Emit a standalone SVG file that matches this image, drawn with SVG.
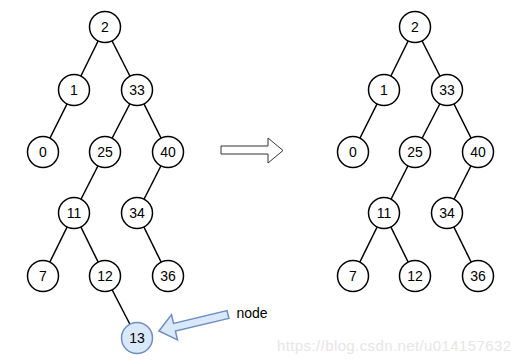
<svg xmlns="http://www.w3.org/2000/svg" width="521" height="364" viewBox="0 0 521 364">
<style>
.n circle{fill:#fff;stroke:#000;stroke-width:1.5}
.n text{font-family:"Comic Sans MS","Liberation Sans",sans-serif;font-size:14px;text-anchor:middle;dominant-baseline:central;fill:#000}
#edges line{stroke:#000;stroke-width:1.5}
#n13 circle{fill:#dae8fc;stroke:#6c8ebf}
</style>
<rect width="521" height="364" fill="#fff"/>
<g id="edges">
<line x1="105" y1="27" x2="74" y2="90"/>
<line x1="105" y1="27" x2="137" y2="90"/>
<line x1="74" y1="90" x2="43" y2="152"/>
<line x1="137" y1="90" x2="105" y2="152"/>
<line x1="137" y1="90" x2="168" y2="152"/>
<line x1="105" y1="152" x2="74" y2="213"/>
<line x1="168" y1="152" x2="137" y2="213"/>
<line x1="74" y1="213" x2="43" y2="276"/>
<line x1="74" y1="213" x2="105" y2="276"/>
<line x1="137" y1="213" x2="168" y2="276"/>
<line x1="105" y1="276" x2="137" y2="338"/>
<line x1="415" y1="27" x2="384" y2="90"/>
<line x1="415" y1="27" x2="447" y2="90"/>
<line x1="384" y1="90" x2="353" y2="152"/>
<line x1="447" y1="90" x2="415" y2="152"/>
<line x1="447" y1="90" x2="478" y2="152"/>
<line x1="415" y1="152" x2="384" y2="213"/>
<line x1="478" y1="152" x2="447" y2="213"/>
<line x1="384" y1="213" x2="353" y2="276"/>
<line x1="384" y1="213" x2="415" y2="276"/>
<line x1="447" y1="213" x2="478" y2="276"/>
</g>
<g id="L2" class="n"><circle cx="105" cy="27" r="15.5"/><text x="105" y="27">2</text></g>
<g id="L1" class="n"><circle cx="74" cy="90" r="15.5"/><text x="74" y="90">1</text></g>
<g id="L33" class="n"><circle cx="137" cy="90" r="15.5"/><text x="137" y="90">33</text></g>
<g id="L0" class="n"><circle cx="43" cy="152" r="15.5"/><text x="43" y="152">0</text></g>
<g id="L25" class="n"><circle cx="105" cy="152" r="15.5"/><text x="105" y="152">25</text></g>
<g id="L40" class="n"><circle cx="168" cy="152" r="15.5"/><text x="168" y="152">40</text></g>
<g id="L11" class="n"><circle cx="74" cy="213" r="15.5"/><text x="74" y="213">11</text></g>
<g id="L34" class="n"><circle cx="137" cy="213" r="15.5"/><text x="137" y="213">34</text></g>
<g id="L7" class="n"><circle cx="43" cy="276" r="15.5"/><text x="43" y="276">7</text></g>
<g id="L12" class="n"><circle cx="105" cy="276" r="15.5"/><text x="105" y="276">12</text></g>
<g id="L36" class="n"><circle cx="168" cy="276" r="15.5"/><text x="168" y="276">36</text></g>
<g id="n13" class="n"><circle cx="137" cy="338" r="15.5"/><text x="137" y="338">13</text></g>
<g id="R2" class="n"><circle cx="415" cy="27" r="15.5"/><text x="415" y="27">2</text></g>
<g id="R1" class="n"><circle cx="384" cy="90" r="15.5"/><text x="384" y="90">1</text></g>
<g id="R33" class="n"><circle cx="447" cy="90" r="15.5"/><text x="447" y="90">33</text></g>
<g id="R0" class="n"><circle cx="353" cy="152" r="15.5"/><text x="353" y="152">0</text></g>
<g id="R25" class="n"><circle cx="415" cy="152" r="15.5"/><text x="415" y="152">25</text></g>
<g id="R40" class="n"><circle cx="478" cy="152" r="15.5"/><text x="478" y="152">40</text></g>
<g id="R11" class="n"><circle cx="384" cy="213" r="15.5"/><text x="384" y="213">11</text></g>
<g id="R34" class="n"><circle cx="447" cy="213" r="15.5"/><text x="447" y="213">34</text></g>
<g id="R7" class="n"><circle cx="353" cy="276" r="15.5"/><text x="353" y="276">7</text></g>
<g id="R12" class="n"><circle cx="415" cy="276" r="15.5"/><text x="415" y="276">12</text></g>
<g id="R36" class="n"><circle cx="478" cy="276" r="15.5"/><text x="478" y="276">36</text></g>
<g id="bigArrow"><polygon points="221,146 268,146 268,138 283,150.5 268,163 268,154 221,154" fill="#fff" stroke="#333" stroke-width="1"/></g>
<g id="pointer"><polygon points="0,-4 55,-4 55,-13 71,0 55,13 55,4 0,4" transform="translate(228,314.5) rotate(166.6)" fill="#dae8fc" stroke="#6c8ebf" stroke-width="1.5"/></g>
<g id="label"><text x="252" y="313" font-family="'Comic Sans MS','Liberation Sans',sans-serif" font-size="14" text-anchor="middle" dominant-baseline="central">node</text></g>
<text x="277" y="351" font-family="'Liberation Sans',Arial,sans-serif" font-size="15" fill="#e6e6e6" textLength="234">https://blog.csdn.net/u014157632</text>
</svg>
